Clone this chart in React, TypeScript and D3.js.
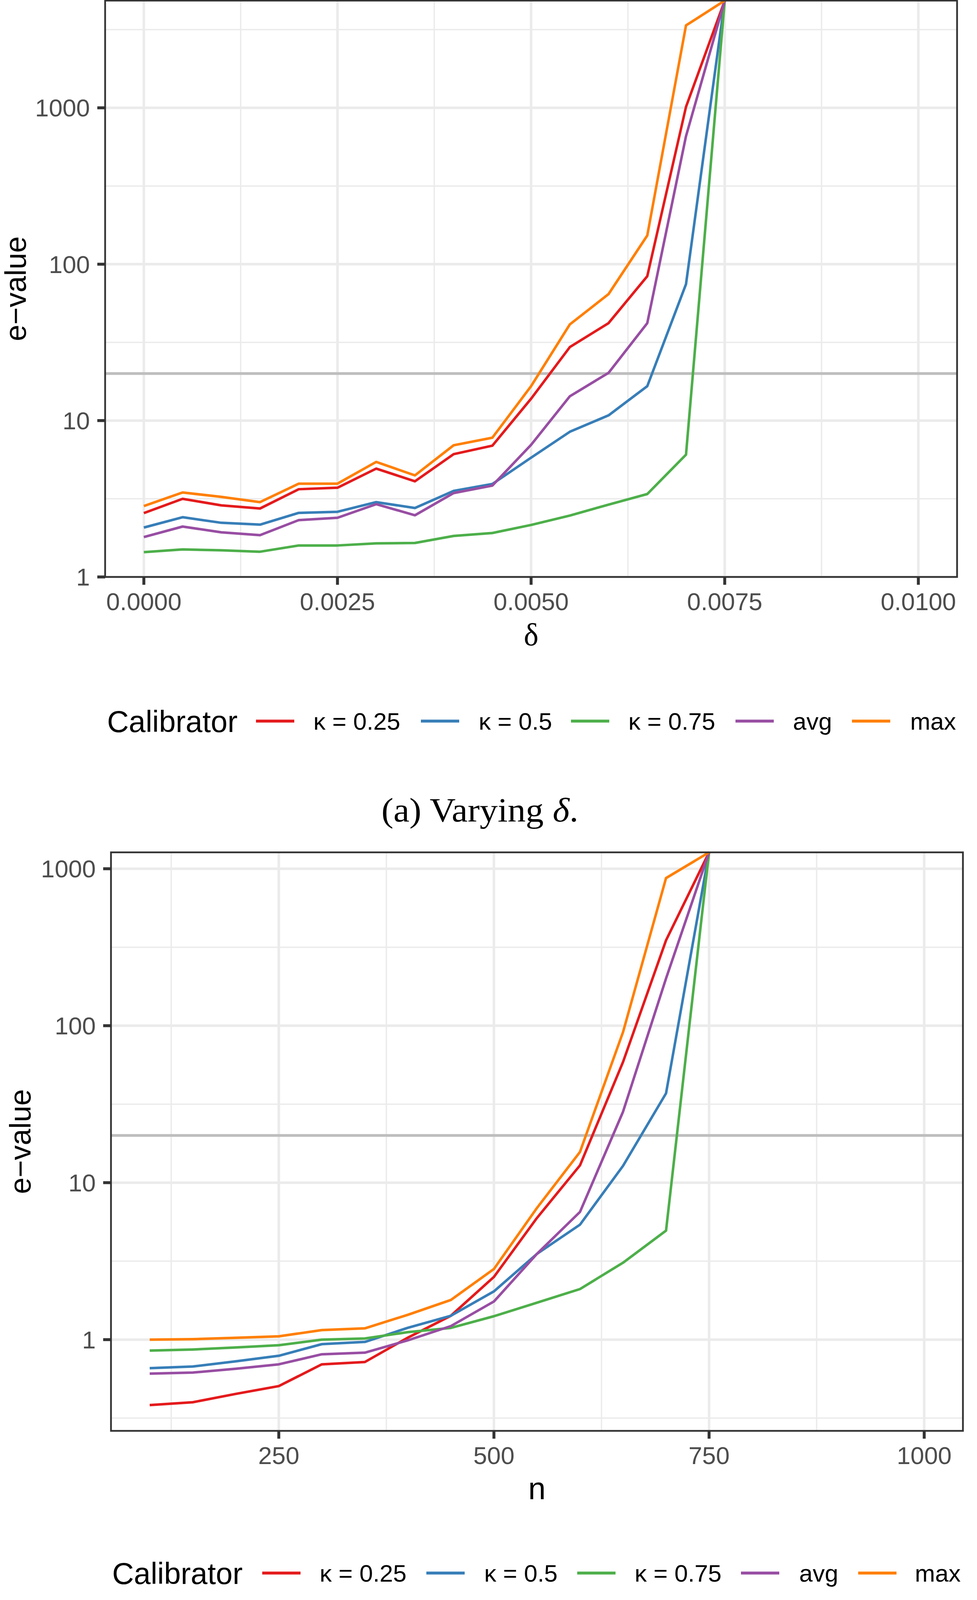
import React from 'react';
import * as d3 from 'd3';

// ---------- data ----------
const seriesNames = ['κ = 0.25', 'κ = 0.5', 'κ = 0.75', 'avg', 'max'];
const seriesColors = ['#E41A1C', '#377EB8', '#4DAF4A', '#984EA3', '#FF7F00'];

// Panel (a): varying delta
const deltaValues = [0, 0.0005, 0.001, 0.0015, 0.002, 0.0025, 0.003, 0.0035, 0.004, 0.0045, 0.005, 0.0055, 0.006, 0.0065, 0.007, 0.0075];
const deltaK025 = [2.56, 3.16, 2.87, 2.74, 3.64, 3.72, 4.93, 4.09, 6.10, 6.91, 13.8, 29.5, 42.0, 83.8, 1014, 4850];
const deltaK05 = [2.07, 2.41, 2.22, 2.16, 2.57, 2.61, 3.01, 2.76, 3.55, 3.93, 5.79, 8.48, 10.8, 16.6, 74.5, 4850];
const deltaK075 = [1.44, 1.50, 1.48, 1.45, 1.59, 1.59, 1.64, 1.65, 1.83, 1.91, 2.15, 2.47, 2.90, 3.39, 6.05, 4850];
const deltaAvg = [1.80, 2.10, 1.93, 1.85, 2.31, 2.39, 2.92, 2.48, 3.44, 3.84, 7.0, 14.3, 20.2, 42.0, 659, 4850];
const deltaMax = [2.84, 3.47, 3.25, 3.01, 3.95, 3.95, 5.44, 4.46, 6.95, 7.77, 16.6, 41.2, 64.4, 152.6, 3364, 4850];

// Panel (b): varying n
const nValues = [100, 150, 200, 250, 300, 350, 400, 450, 500, 550, 600, 650, 700, 750];
const nK025 = [0.383, 0.399, 0.451, 0.506, 0.696, 0.720, 1.03, 1.42, 2.51, 5.96, 12.9, 58.7, 350, 1272];
const nK05 = [0.658, 0.674, 0.727, 0.789, 0.936, 0.967, 1.19, 1.42, 2.03, 3.52, 5.40, 12.8, 37.1, 1272];
const nK075 = [0.851, 0.865, 0.891, 0.921, 1.0, 1.017, 1.116, 1.188, 1.41, 1.72, 2.10, 3.09, 4.95, 1272];
const nAvg = [0.607, 0.617, 0.652, 0.696, 0.807, 0.826, 0.99, 1.22, 1.75, 3.52, 6.51, 28.3, 200, 1272];
const nMax = [1.00, 1.007, 1.027, 1.05, 1.15, 1.18, 1.44, 1.79, 2.82, 6.90, 15.7, 91, 872, 1272];

// axes
const deltaDomain = [-0.0005, 0.0105];
const deltaTicks = [0, 0.0025, 0.005, 0.0075, 0.01];
const deltaTickLabels = ['0.0000', '0.0025', '0.0050', '0.0075', '0.0100'];
const deltaMinorTicks = [0.00125, 0.00375, 0.00625, 0.00875];
const eDomainA = [1, 4850];
const eTicksA = [1, 10, 100, 1000];
const eTickLabelsA = ['1', '10', '100', '1000'];

const nDomain = [55, 1045];
const nTicks = [250, 500, 750, 1000];
const nTickLabels = ['250', '500', '750', '1000'];
const nMinorTicks = [125, 375, 625, 875];
const eDomainB = [0.2623, 1272];
const eTicksB = [1, 10, 100, 1000];
const eTickLabelsB = ['1', '10', '100', '1000'];

const threshold = 20;
const legendTitle = 'Calibrator';
const yTitle = 'e\u2212value';

const SANS = '"Liberation Sans", Arial, Helvetica, sans-serif';
const SERIF = '"Liberation Serif", "Times New Roman", serif';

type PanelProps = {
  left: number; right: number; top: number; bottom: number;
  xDomain: number[]; yDomain: number[];
  xTicks: number[]; xTickLabels: string[]; xMinor: number[];
  yTicks: number[]; yTickLabels: string[];
  xs: number[]; series: number[][];
  xTitle: string; xTitleFont: string; titleOffsetX: number;
};

function Panel(p: PanelProps) {
  const x = d3.scaleLinear().domain(p.xDomain).range([p.left, p.right]);
  const y = d3.scaleLog().domain(p.yDomain).range([p.bottom, p.top]);
  const [lo, hi] = [Math.log10(p.yDomain[0]), Math.log10(p.yDomain[1])];
  const yMinor: number[] = [];
  for (let k = Math.floor(lo) - 1; k <= Math.ceil(hi); k++) {
    const v = k + 0.5;
    if (v > lo && v < hi) yMinor.push(Math.pow(10, v));
  }
  const line = d3.line<number>().x((_, i) => x(p.xs[i])).y((d) => y(d));
  const gridMajor = '#EBEBEB';
  const cx = (p.left + p.right) / 2;
  const cy = (p.top + p.bottom) / 2;
  return (
    <g>
      <rect x={p.left} y={p.top} width={p.right - p.left} height={p.bottom - p.top} fill="#fff" />
      {yMinor.map((v, i) => (
        <line key={'ym' + i} x1={p.left} x2={p.right} y1={y(v)} y2={y(v)} stroke={gridMajor} strokeWidth={3.5} />
      ))}
      {p.xMinor.map((v, i) => (
        <line key={'xm' + i} x1={x(v)} x2={x(v)} y1={p.top} y2={p.bottom} stroke={gridMajor} strokeWidth={3.5} />
      ))}
      {p.yTicks.map((v, i) => (
        <line key={'yM' + i} x1={p.left} x2={p.right} y1={y(v)} y2={y(v)} stroke={gridMajor} strokeWidth={6.5} />
      ))}
      {p.xTicks.map((v, i) => (
        <line key={'xM' + i} x1={x(v)} x2={x(v)} y1={p.top} y2={p.bottom} stroke={gridMajor} strokeWidth={6.5} />
      ))}
      <line x1={p.left} x2={p.right} y1={y(threshold)} y2={y(threshold)} stroke="#BEBEBE" strokeWidth={7} />
      {p.series.map((s, i) => (
        <path key={'s' + i} d={line(s) || ''} fill="none" stroke={seriesColors[i]} strokeWidth={6.5}
          strokeLinejoin="round" strokeLinecap="butt" />
      ))}
      <rect x={p.left} y={p.top} width={p.right - p.left} height={p.bottom - p.top} fill="none" stroke="#333333" strokeWidth={4.5} />
      {/* y axis */}
      {p.yTicks.map((v, i) => (
        <g key={'yt' + i}>
          <line x1={p.left - 20} x2={p.left} y1={y(v)} y2={y(v)} stroke="#333333" strokeWidth={7.5} />
          <text x={p.left - 39} y={y(v)} dy="0.355em" textAnchor="end" fontFamily={SANS} fontSize={63} fill="#4D4D4D">
            {p.yTickLabels[i]}
          </text>
        </g>
      ))}
      {/* x axis */}
      {p.xTicks.map((v, i) => (
        <g key={'xt' + i}>
          <line x1={x(v)} x2={x(v)} y1={p.bottom} y2={p.bottom + 20} stroke="#333333" strokeWidth={7.5} />
          <text x={x(v)} y={p.bottom + 85} textAnchor="middle" fontFamily={SANS} fontSize={63} fill="#4D4D4D">
            {p.xTickLabels[i]}
          </text>
        </g>
      ))}
      <text x={cx} y={p.bottom + 175} textAnchor="middle" fontFamily={p.xTitleFont} fontSize={80} fill="#000">
        {p.xTitle}
      </text>
      <text transform={`translate(${p.titleOffsetX},${cy}) rotate(-90)`} textAnchor="middle" fontFamily={SANS} fontSize={76} fill="#000">
        {yTitle}
      </text>
    </g>
  );
}

type LegendProps = { titleX: number; cy: number; keyX: number[]; labelX: number[] };

function Legend(p: LegendProps) {
  return (
    <g>
      <text x={p.titleX} y={p.cy + 0.358 * 77} fontFamily={SANS} fontSize={77} fill="#000">{legendTitle}</text>
      {seriesNames.map((name, i) => (
        <g key={i}>
          <line x1={p.keyX[i]} x2={p.keyX[i] + 98} y1={p.cy} y2={p.cy} stroke={seriesColors[i]} strokeWidth={7.5} />
          <text x={p.labelX[i]} y={p.cy + 0.358 * 62} fontFamily={SANS} fontSize={62} fill="#000">{name}</text>
        </g>
      ))}
    </g>
  );
}

export default function App() {
  const W = 2500;
  const H = 4305;
  return (
    <div style={{ position: 'absolute', left: 0, top: 0, width: W, height: H, background: '#fff' }}>
      <svg width={W} height={H} viewBox={`0 0 ${W} ${H}`} style={{ display: 'block' }}>
        <rect x={0} y={0} width={W} height={H} fill="#fff" />
        <Panel
          left={269} right={2449} top={1.5} bottom={1477}
          xDomain={deltaDomain} yDomain={eDomainA}
          xTicks={deltaTicks} xTickLabels={deltaTickLabels} xMinor={deltaMinorTicks}
          yTicks={eTicksA} yTickLabels={eTickLabelsA}
          xs={deltaValues} series={[deltaK025, deltaK05, deltaK075, deltaAvg, deltaMax]}
          xTitle="δ" xTitleFont={SERIF} titleOffsetX={66}
        />
        <Legend titleX={274} cy={1846} keyX={[655, 1077, 1461, 1882, 2180]} labelX={[802, 1225, 1608, 2029, 2329]} />
        <text x={1228} y={2103} textAnchor="middle" fontFamily={SERIF} fontSize={86} fill="#000"
          textLength={504} lengthAdjust="spacingAndGlyphs">
          (a) Varying <tspan fontStyle="italic">δ</tspan>.
        </text>

        <Panel
          left={284} right={2464} top={2182} bottom={3663}
          xDomain={nDomain} yDomain={eDomainB}
          xTicks={nTicks} xTickLabels={nTickLabels} xMinor={nMinorTicks}
          yTicks={eTicksB} yTickLabels={eTickLabelsB}
          xs={nValues} series={[nK025, nK05, nK075, nAvg, nMax]}
          xTitle="n" xTitleFont={SANS} titleOffsetX={78}
        />
        <Legend titleX={287} cy={4027} keyX={[671, 1091, 1477, 1896, 2196]} labelX={[818, 1239, 1624, 2045, 2341]} />
        <text x={1245} y={4262} textAnchor="middle" fontFamily={SERIF} fontSize={82} fill="#000"
          textLength={520} lengthAdjust="spacingAndGlyphs">
          (b) Varying <tspan fontStyle="italic">n</tspan>.
        </text>
      </svg>
    </div>
  );
}
